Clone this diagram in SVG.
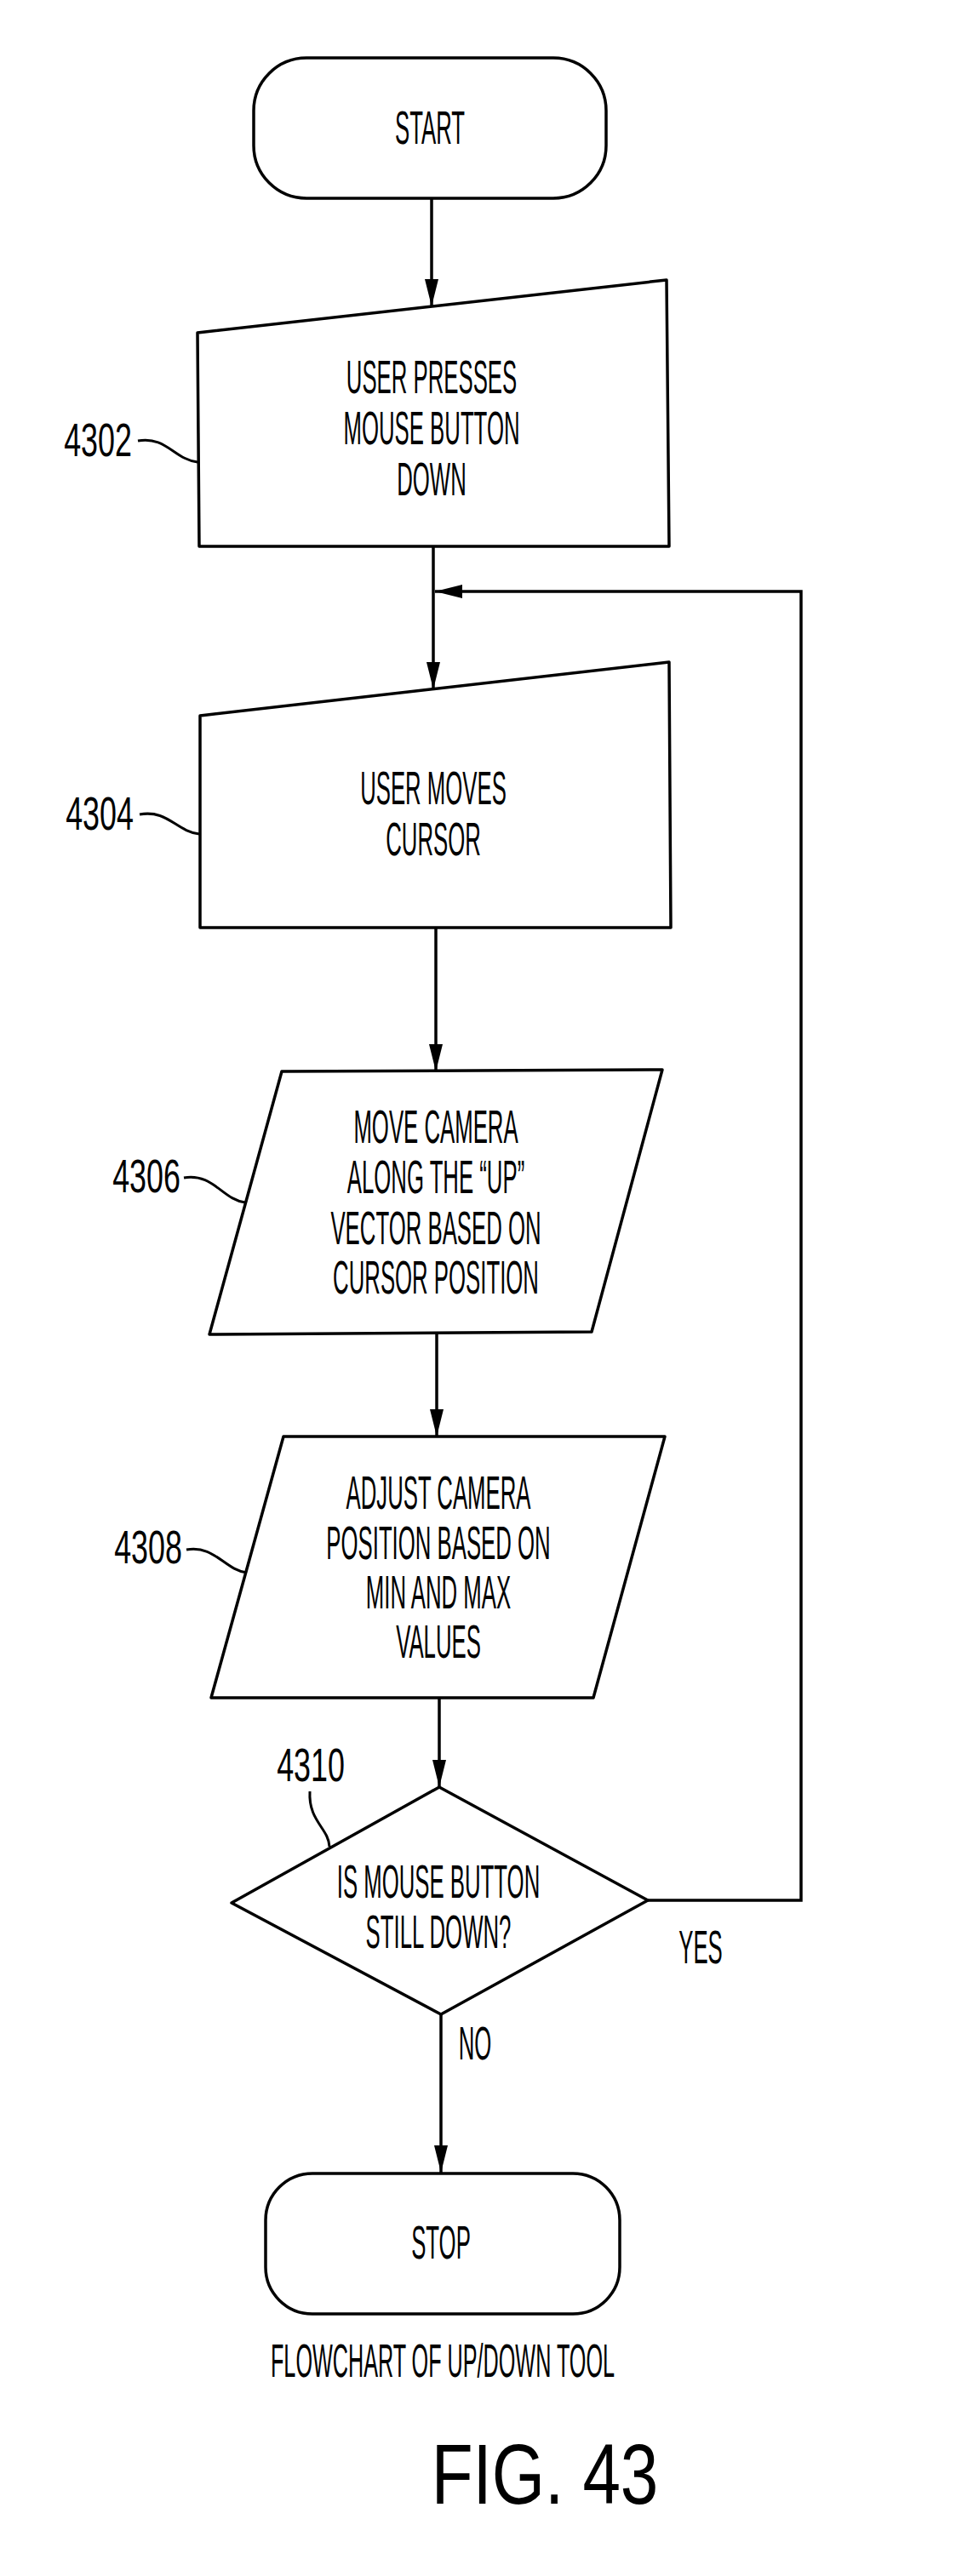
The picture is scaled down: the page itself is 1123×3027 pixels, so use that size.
<svg xmlns="http://www.w3.org/2000/svg" width="1123" height="3027" viewBox="0 0 1123 3027">
<style>
.s{fill:#fff;stroke:#000;stroke-width:3.5;stroke-linejoin:round}
.l{fill:none;stroke:#000;stroke-width:3.5}
.ld{fill:none;stroke:#000;stroke-width:3}
text{font-family:"Liberation Sans",Arial,sans-serif;fill:#000;text-anchor:middle}
.t{font-size:56px}
.n{font-size:56px}
</style>
<defs>
<marker id="ah" viewBox="0 0 10 10" refX="10" refY="5" markerWidth="9" markerHeight="9" markerUnits="userSpaceOnUse" orient="auto" style="overflow:visible">
<path d="M0,0 L0,0 Z"/>
</marker>
<path id="tri" d="M0,0 L-8,-32 L8,-32 Z"/>
</defs>
<g id="connectors">
<line class="l" x1="507" y1="233" x2="507" y2="360"/><use href="#tri" x="507" y="360"/>
<line class="l" x1="509" y1="642" x2="509" y2="810"/><use href="#tri" x="509" y="810"/>
<polyline class="l" points="761,2233 941,2233 941,695 511,695"/><use href="#tri" transform="translate(511,695) rotate(90)"/>
<line class="l" x1="512" y1="1090" x2="512" y2="1259"/><use href="#tri" x="512" y="1259"/>
<line class="l" x1="513" y1="1567" x2="513" y2="1688"/><use href="#tri" x="513" y="1688"/>
<line class="l" x1="516" y1="1995" x2="516" y2="2100"/><use href="#tri" x="516" y="2100"/>
<line class="l" x1="518" y1="2367" x2="518" y2="2553"/><use href="#tri" x="518" y="2553"/>
<text class="t" transform="translate(823,2307) scale(0.46,1)">YES</text>
<text class="t" transform="translate(558,2420) scale(0.46,1)">NO</text>
</g>
<g id="start">
<rect class="s" x="298" y="68" width="414" height="165" rx="62"/>
<text class="t" transform="translate(505,169) scale(0.46,1)">START</text>
</g>
<g id="n4302">
<polygon class="s" points="232,391 783,329 786,642 234,642"/>
<text class="t" transform="translate(507,462) scale(0.46,1)">USER PRESSES</text>
<text class="t" transform="translate(507,522) scale(0.46,1)">MOUSE BUTTON</text>
<text class="t" transform="translate(507,582) scale(0.46,1)">DOWN</text>
<text class="n" transform="translate(115,536) scale(0.64,1)">4302</text>
<path class="ld" d="M162,518 C195,512 205,540 232,543"/>
</g>
<g id="n4304">
<polygon class="s" points="235,841 786,778 788,1090 235,1090"/>
<text class="t" transform="translate(509,945) scale(0.46,1)">USER MOVES</text>
<text class="t" transform="translate(509,1005) scale(0.46,1)">CURSOR</text>
<text class="n" transform="translate(117,975) scale(0.64,1)">4304</text>
<path class="ld" d="M164,957 C197,951 207,977 234,980"/>
</g>
<g id="n4306">
<polygon class="s" points="331,1259 778,1257 695,1565 246,1568"/>
<text class="t" transform="translate(512,1343) scale(0.46,1)">MOVE CAMERA</text>
<text class="t" transform="translate(512,1402) scale(0.46,1)">ALONG THE “UP”</text>
<text class="t" transform="translate(512,1462) scale(0.46,1)">VECTOR BASED ON</text>
<text class="t" transform="translate(512,1520) scale(0.46,1)">CURSOR POSITION</text>
<text class="n" transform="translate(172,1401) scale(0.64,1)">4306</text>
<path class="ld" d="M216,1384 C250,1378 262,1410 288,1413"/>
</g>
<g id="n4308">
<polygon class="s" points="333,1688 781,1688 697,1995 248,1995"/>
<text class="t" transform="translate(515,1773) scale(0.46,1)">ADJUST CAMERA</text>
<text class="t" transform="translate(515,1832) scale(0.46,1)">POSITION BASED ON</text>
<text class="t" transform="translate(515,1890) scale(0.46,1)">MIN AND MAX</text>
<text class="t" transform="translate(515,1948) scale(0.46,1)">VALUES</text>
<text class="n" transform="translate(174,1837) scale(0.64,1)">4308</text>
<path class="ld" d="M219,1821 C252,1815 264,1845 290,1848"/>
</g>
<g id="n4310">
<polygon class="s" points="516,2100 761,2233 518,2367 272,2236"/>
<text class="t" transform="translate(515,2230) scale(0.46,1)">IS MOUSE BUTTON</text>
<text class="t" transform="translate(515,2289) scale(0.46,1)">STILL DOWN?</text>
<text class="n" transform="translate(365,2093) scale(0.64,1)">4310</text>
<path class="ld" d="M364,2105 C362,2140 386,2148 387,2170"/>
</g>
<g id="stop">
<rect class="s" x="312" y="2554" width="416" height="165" rx="55"/>
<text class="t" transform="translate(518,2654) scale(0.46,1)">STOP</text>
</g>
<text class="t" transform="translate(520,2793) scale(0.45,1)">FLOWCHART OF UP/DOWN TOOL</text>
<text style="font-size:100px" transform="translate(640,2942) scale(0.8,1)">FIG. 43</text>
</svg>
